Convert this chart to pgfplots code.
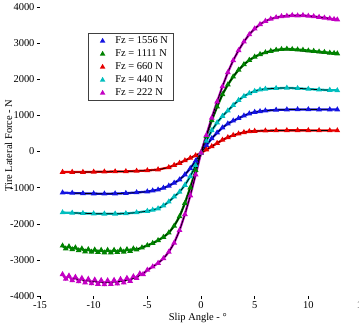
\documentclass[border=0pt]{standalone}
\usepackage{fontspec}
\setmainfont{Liberation Serif}
\usepackage{pgfplots}
\usepackage{pgfplotstable}
\pgfplotsset{compat=1.18}
\definecolor{cBlue}{RGB}{20,20,225}
\definecolor{cGreen}{RGB}{0,130,0}
\definecolor{cRed}{RGB}{230,0,0}
\definecolor{cCyan}{RGB}{0,190,190}
\definecolor{cMag}{RGB}{195,0,195}

\pgfplotstableread{
x y
-12.9 -1140
-12 -1150
-11 -1160
-10 -1165
-9 -1170
-8 -1165
-7 -1155
-6 -1135
-5 -1110
-4.5 -1085
-4 -1060
-3.5 -1010
-3 -950
-2.5 -870
-2 -780
-1.5 -640
-1 -470
-0.5 -260
0 -40
0.5 170
1 360
1.5 520
2 660
2.5 770
3 850
3.5 920
4 990
4.5 1050
5 1090
5.5 1110
6 1130
7 1150
8 1160
9 1165
10 1165
11 1160
12 1160
12.7 1160
}\blue

\pgfplotstableread{
x y
-12.9 -2610
-12.6 -2690
-12.3 -2630
-12.0 -2710
-11.7 -2660
-11.4 -2740
-11.1 -2690
-10.8 -2770
-10.5 -2710
-10.2 -2780
-9.9 -2720
-9.6 -2790
-9.3 -2730
-9.0 -2800
-8.7 -2730
-8.4 -2800
-8.1 -2730
-7.8 -2790
-7.5 -2720
-7.2 -2780
-6.9 -2710
-6.6 -2760
-6.3 -2690
-6.0 -2720
-5.5 -2660
-5 -2600
-4.5 -2540
-4 -2460
-3.5 -2370
-3 -2250
-2.5 -2060
-2 -1800
-1.5 -1430
-1 -1000
-0.5 -520
0 -40
0.5 420
1 860
1.5 1240
2 1580
2.5 1850
3 2070
3.5 2260
4 2410
4.5 2530
5 2620
5.5 2690
6 2740
6.5 2780
7 2810
7.5 2830
8 2840
8.5 2830
9 2820
9.5 2810
10 2790
10.5 2780
11 2760
11.5 2750
12 2730
12.4 2720
12.7 2710
}\green

\pgfplotstableread{
x y
-12 -2670
-11 -2710
-10 -2745
-9 -2760
-8 -2760
-7 -2745
-6 -2700
-5 -2600
-4.5 -2540
-4 -2460
-3.5 -2370
-3 -2250
-2.5 -2060
-2 -1800
-1.5 -1430
-1 -1000
-0.5 -520
0 -40
0.5 420
1 860
1.5 1240
2 1580
2.5 1850
3 2070
3.5 2260
4 2410
4.5 2530
5 2620
5.5 2690
6 2740
6.5 2780
7 2800
7.5 2810
8 2810
9 2790
10 2760
11 2730
12 2700
}\greenfit

\pgfplotstableread{
x y
-12.9 -570
-12 -570
-11 -570
-10 -565
-9 -560
-8 -555
-7 -550
-6 -540
-5 -525
-4 -500
-3 -440
-2.5 -380
-2 -320
-1.5 -250
-1 -180
-0.5 -110
0 -40
0.5 50
1 140
1.5 230
2 320
2.5 390
3 450
3.5 490
4 530
4.5 555
5 565
6 575
7 580
8 585
9 585
10 585
11 580
12 580
12.7 580
}\red

\pgfplotstableread{
x y
-12.9 -1690
-12 -1700
-11 -1710
-10 -1720
-9 -1725
-8 -1725
-7 -1715
-6 -1690
-5 -1650
-4.5 -1620
-4 -1580
-3.5 -1500
-3 -1390
-2.5 -1250
-2 -1120
-1.5 -930
-1 -690
-0.5 -380
0 -40
0.5 290
1 580
1.5 800
2 980
2.5 1130
3 1280
3.5 1420
4 1530
4.5 1610
5 1670
5.5 1710
6 1730
7 1750
8 1760
9 1750
10 1730
11 1710
12 1700
12.7 1690
}\cyan

\pgfplotstableread{
x y
-12.9 -3400
-12.6 -3530
-12.3 -3440
-12.0 -3570
-11.7 -3475
-11.4 -3600
-11.1 -3505
-10.8 -3630
-10.5 -3530
-10.2 -3655
-9.9 -3550
-9.6 -3670
-9.3 -3565
-9.0 -3680
-8.7 -3570
-8.4 -3675
-8.1 -3560
-7.8 -3660
-7.5 -3535
-7.2 -3630
-6.9 -3505
-6.6 -3590
-6.3 -3460
-6.0 -3510
-5.7 -3380
-5.4 -3400
-5.0 -3280
-4.5 -3190
-4.0 -3090
-3.5 -2960
-3.0 -2780
-2.5 -2530
-2.0 -2180
-1.5 -1740
-1.0 -1220
-0.5 -640
0 -40
0.5 450
1 930
1.5 1380
2 1800
2.5 2190
3 2520
3.5 2800
4 3040
4.5 3240
5 3400
5.5 3520
6 3610
6.5 3670
7 3710
7.5 3740
8 3750
8.5 3770
9 3760
9.5 3770
10 3750
10.5 3740
11 3720
11.5 3700
12 3680
12.4 3660
12.7 3650
}\magenta

\pgfplotstableread{
x y
-12 -3510
-11 -3560
-10 -3600
-9 -3620
-8 -3610
-7 -3570
-6 -3480
-5 -3290
-4.5 -3190
-4.0 -3090
-3.5 -2960
-3.0 -2780
-2.5 -2530
-2.0 -2180
-1.5 -1740
-1.0 -1220
-0.5 -640
0 -40
0.5 450
1 930
1.5 1380
2 1800
2.5 2190
3 2520
3.5 2800
4 3040
4.5 3240
5 3400
5.5 3520
6 3610
6.5 3670
7 3710
7.5 3740
8 3755
9 3760
10 3745
11 3720
12 3680
}\magfit

\begin{document}
\begin{tikzpicture}[font=\fontsize{10.5}{12}\selectfont]
\useasboundingbox (0,0) rectangle (359bp,324bp);
\begin{axis}[
  at={(40bp,28bp)}, anchor=south west,
  scale only axis, width=322bp, height=289bp,
  xmin=-15, xmax=15, ymin=-4000, ymax=4000,
  xtick={-15,-10,-5,0,5,10,15},
  xticklabels={-15,-10,-5,0,5,10,15},
  ytick={-4000,-3000,-2000,-1000,0,1000,2000,3000,4000},
  yticklabels={-4000,-3000,-2000,-1000,0,1000,2000,3000,4000},
  axis line style={draw=none},
  tick align=outside, xtick pos=bottom, ytick pos=left,
  major tick length=3bp,
  tick style={black, line width=0.5pt},
  tick label style={font=\fontsize{10.5}{12}\selectfont},
  xticklabel style={yshift=1bp},
  yticklabel style={xshift=1bp},
  label style={font=\fontsize{10.5}{12}\selectfont},
  xlabel={Slip Angle - °},
  ylabel={Tire Lateral Force - N},
  xlabel style={at={(axis description cs:0.49,-0.075)}, anchor=center},
  ylabel style={at={(axis description cs:-0.098,0.52)}, anchor=center},
  legend style={at={(axis description cs:0.149,0.91)}, anchor=north west,
    draw=black!75, line width=0.6pt, font=\fontsize{10.5}{12}\selectfont,
    inner xsep=3pt, inner ysep=1.5pt, row sep=0.6pt, cells={anchor=west}},
  legend image code/.code={\path[draw=none, fill=none] (0cm,0cm) -- (0.78cm,0cm); \draw[#1, only marks, mark size=0.9pt] plot coordinates {(0.4cm,0cm)};},
  every axis plot/.append style={line width=2.3pt, mark=triangle*, mark size=1.1pt, mark options={solid, line width=0.3pt}},
]
\addplot[cBlue, mark options={fill=cBlue}] table {\blue};
\addlegendentry{Fz = 1556 N}
\addplot[cGreen, mark options={fill=cGreen}] table {\green};
\addlegendentry{Fz = 1111 N}
\addplot[cRed, mark options={fill=cRed}] table {\red};
\addlegendentry{Fz = 660 N}
\addplot[cCyan, mark options={fill=cCyan}] table {\cyan};
\addlegendentry{Fz = 440 N}
\addplot[cMag, mark options={fill=cMag}] table {\magenta};
\addlegendentry{Fz = 222 N}
\addplot[black, no marks, line width=0.7pt, smooth, forget plot, restrict x to domain=-12:12] table {\blue};
\addplot[black, no marks, line width=0.7pt, smooth, forget plot] table {\greenfit};
\addplot[black, no marks, line width=0.7pt, smooth, forget plot, restrict x to domain=-12:12] table {\red};
\addplot[black, no marks, line width=0.7pt, smooth, forget plot, restrict x to domain=-12:12] table {\cyan};
\addplot[black, no marks, line width=0.7pt, smooth, forget plot] table {\magfit};
\end{axis}
\end{tikzpicture}
\end{document}
